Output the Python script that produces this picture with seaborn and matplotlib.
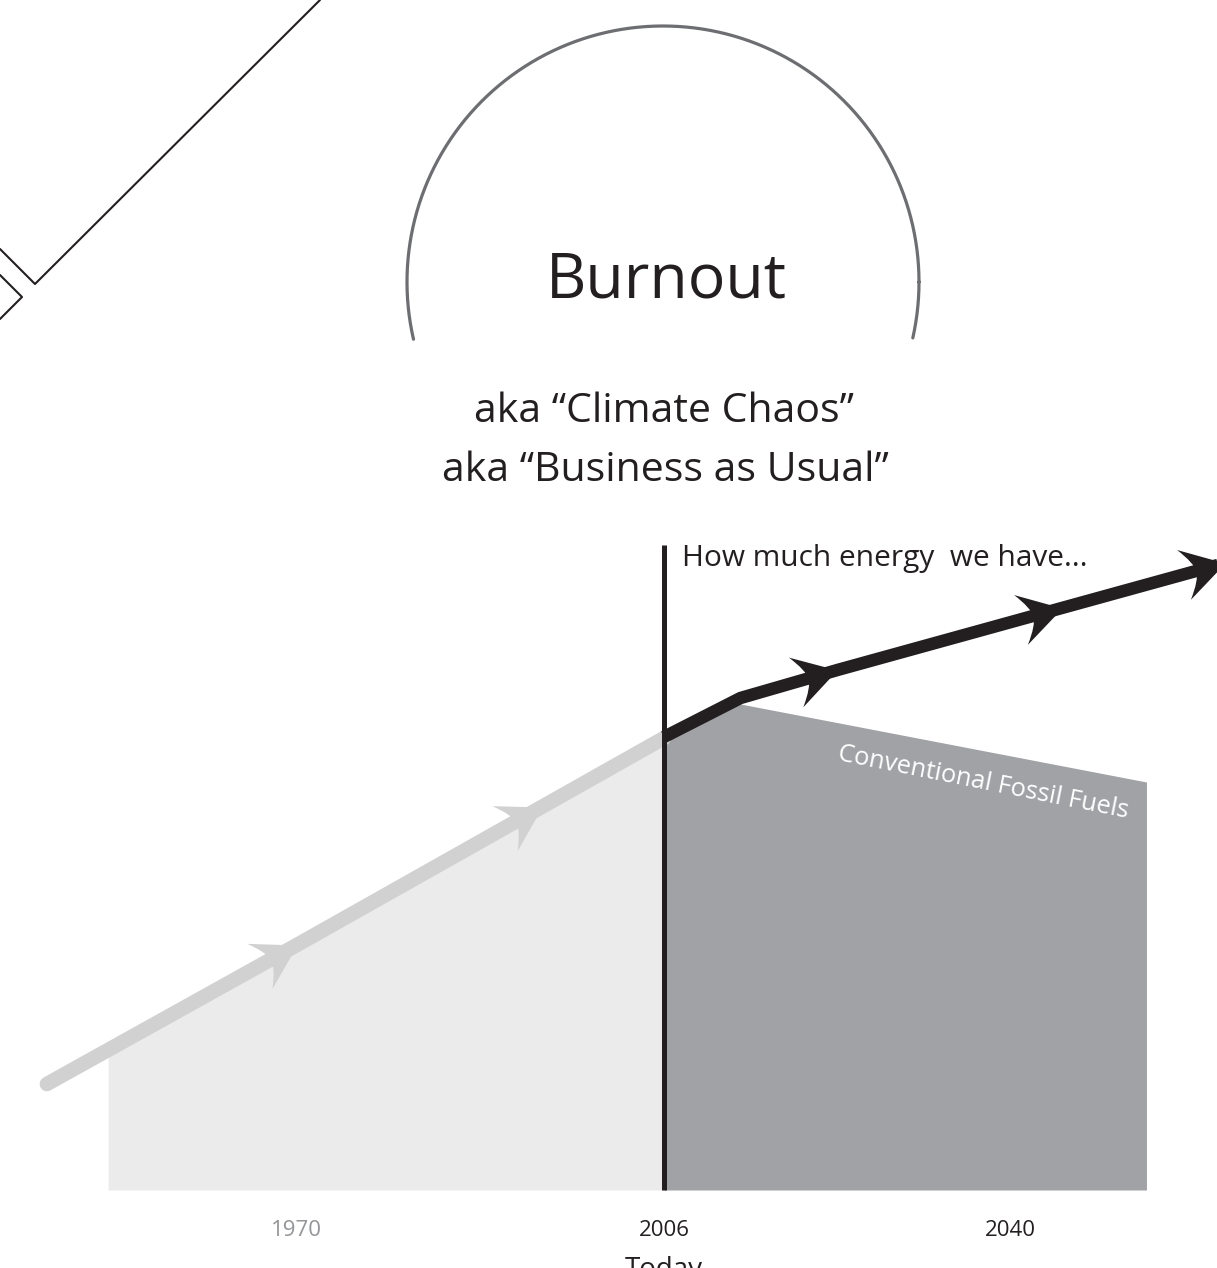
import numpy as np
import pandas as pd
import matplotlib
import matplotlib.pyplot as plt
import seaborn as sns
from matplotlib.path import Path
from matplotlib.markers import MarkerStyle
from matplotlib.transforms import Affine2D

matplotlib.use('Agg')

# --- data (years, energy in arbitrary units) ---
past_years = [1945.5, 1970, 1994, 2006]
past_energy = [10.6, 24.5, 38.3, 45.2]
past_arrow_years = [1970, 1994]

past_fill_years = [1951.5, 1970, 1994, 2006]
past_fill_top = [14.0, 24.5, 38.3, 45.2]

future_years = [2006, 2013.5, 2023, 2045, 2061]
future_energy = [45.3, 49.2, 52.0, 58.2, 62.7]
future_arrow_years = [2023, 2045, 2061]

fossil_years = [2006, 2013.5, 2053.3]
fossil_energy = [45.2, 48.6, 40.8]

today_year = 2006
today_line_top = 64.5

tick_years = [1970, 2006, 2040]
tick_labels = ['1970', '2006', '2040']

# colours
INK = '#231f20'
LIGHT_FILL = '#ebebeb'
LIGHT_LINE = '#d1d1d1'
DARK_FILL = '#a1a2a6'
CIRCLE = '#6d6e71'
tick_colors = ['#939598', INK, INK]

sns.set_theme(style='white')
plt.rcParams['font.family'] = ['Open Sans', 'DejaVu Sans']

W, H = 1217, 1268
fig = plt.figure(figsize=(W / 100, H / 100), dpi=100)

# data axes covering the whole figure
ax = fig.add_axes([0, 0, 1, 1])
px_per_year = 10.2
ax.set_xlim(2006 - 664 / px_per_year, 2006 + 553 / px_per_year)
ax.set_ylim(-7.8, 119.0)
ax.axis('off')

past = pd.DataFrame({'year': past_years, 'energy': past_energy})
future = pd.DataFrame({'year': future_years, 'energy': future_energy})

# filled areas
ax.fill_between(past_fill_years, 0, past_fill_top, color=LIGHT_FILL, lw=0, zorder=1)
ax.fill_between(fossil_years, 0, fossil_energy, color=DARK_FILL, lw=0, zorder=1)

# "today" line
ax.plot([today_year, today_year], [0, today_line_top], color=INK, linewidth=3.6,
        solid_capstyle='butt', zorder=6)

# trend lines
sns.lineplot(data=past, x='year', y='energy', ax=ax, color=LIGHT_LINE, linewidth=10.5,
             solid_capstyle='round', solid_joinstyle='round', zorder=3)
sns.lineplot(data=future, x='year', y='energy', ax=ax, color=INK, linewidth=9,
             solid_capstyle='butt', solid_joinstyle='round', zorder=5)

# swept-back arrow head marker, tip at the origin, pointing along +x
head = Path(
    [(0, 0), (-1.0, 0.6), (-0.7, 0.2), (-0.7, 0.0), (-0.7, -0.2), (-1.0, -0.6), (0, 0), (0, 0)],
    [Path.MOVETO, Path.LINETO, Path.CURVE3, Path.CURVE3, Path.CURVE3, Path.CURVE3, Path.LINETO, Path.CLOSEPOLY],
)


def draw_heads(df, arrow_years, color, z):
    pts = ax.transData.transform(df[['year', 'energy']].to_numpy())
    for yr in arrow_years:
        i = df.index[df['year'] == yr][0]
        d = pts[i] - pts[i - 1]
        ang = np.degrees(np.arctan2(d[1], d[0]))
        m = MarkerStyle(head, transform=Affine2D().rotate_deg(ang))
        ax.plot(df['year'][i], df['energy'][i], marker=m, ms=62, color=color,
                markeredgewidth=0, zorder=z, clip_on=False)


draw_heads(past, past_arrow_years, LIGHT_LINE, 3)
draw_heads(future, future_arrow_years, INK, 5)

# x labels under the chart
for yr, lab, c in zip(tick_years, tick_labels, tick_colors):
    ax.text(yr, -4.6, lab, ha='center', va='baseline', fontsize=16, color=c)
ax.text(today_year, -8.7, 'Today', ha='center', va='baseline', fontsize=20,
        color=INK, clip_on=False)

# overlay in pixel units for the decoration
deco = fig.add_axes([0, 0, 1, 1])
deco.set_xlim(0, W)
deco.set_ylim(H, 0)
deco.axis('off')
deco.patch.set_alpha(0)

# circle, cut off at the bottom
t = np.linspace(0, 2 * np.pi, 600)
cx, cy, r = 663, 282, 256
xs, ys = cx + r * np.cos(t), cy - r * np.sin(t)
keep = ys <= 340
order = np.argsort(np.where(t > np.pi * 1.5, t - 2 * np.pi, t)[keep])
deco.plot(xs[keep][order], ys[keep][order], color=CIRCLE, linewidth=2.3)

# corner lines top left
deco.plot([320, 35, 0], [0, 284, 249], color=INK, linewidth=1.5)
deco.plot([0, 22, 0], [275, 297, 319], color=INK, linewidth=1.5)

deco.text(666, 298, 'Burnout', ha='center', va='baseline', fontsize=45, color=INK)
deco.text(664, 422, 'aka \u201cClimate Chaos\u201d', ha='center', va='baseline',
          fontsize=29.5, color=INK)
deco.text(665, 481, 'aka \u201cBusiness as Usual\u201d', ha='center', va='baseline',
          fontsize=29.5, color=INK)
deco.text(682, 566, 'How much energy  we have...', ha='left', va='baseline',
          fontsize=21.5, color=INK)
deco.text(983, 783, 'Conventional Fossil Fuels', ha='center', va='center',
          rotation=-11.3, rotation_mode='anchor', fontsize=18.3, color='white')

plt.savefig('out.png', dpi=100)
print("Chart saved as 'out.png'")
